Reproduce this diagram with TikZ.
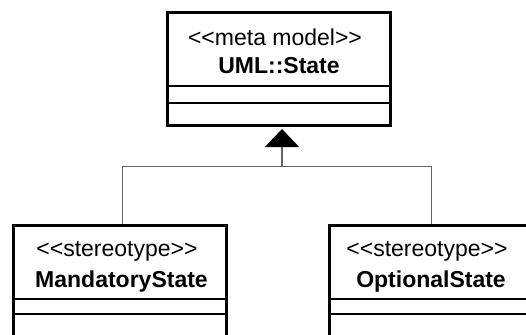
\documentclass[tikz,border=0pt]{standalone}
\usepackage{fontspec}
\setmainfont{Liberation Sans}[Ligatures=TeXOff]
\usetikzlibrary{arrows.meta}
\begin{document}
\begin{tikzpicture}[x=1pt,y=-1pt,
  classbox/.style={draw=black, line width=3pt, fill=white, inner sep=0pt, anchor=north west},
  compline/.style={draw=black, line width=2pt},
  stereo/.style={font=\fontsize{23}{26}\selectfont, anchor=base, inner sep=0pt},
  cname/.style={font=\fontsize{23}{26}\selectfont\bfseries, anchor=base, inner sep=0pt},
  conn/.style={draw={rgb,255:red,100;green,100;blue,100}, line width=1.5pt},
  gen/.style={conn, -{Triangle[length=18pt,width=34pt,fill=black,color=black]}}
]
\useasboundingbox (0,0) rectangle (526,334);
\clip (0,0) rectangle (526,334);

% meta model class
\node[classbox, minimum width=223.5pt, minimum height=112.5pt] (state) at (165.5,11) {};
\draw[compline] (state.west |- 0,86) -- (state.east |- 0,86);
\draw[compline] (state.west |- 0,102.5) -- (state.east |- 0,102.5);
\node[stereo] (stateS) at (275,46) {<\kern0pt<meta model>\kern0pt>};
\node[cname] (stateN) at (279,74) {UML::State};

% stereotype classes
\node[classbox, minimum width=213pt, minimum height=130pt] (mand) at (11.5,224.3) {};
\draw[compline] (mand.west |- 0,299) -- (mand.east |- 0,299);
\draw[compline] (mand.west |- 0,314) -- (mand.east |- 0,314);
\node[stereo] (mandS) at (117,256) {<\kern0pt<stereotype>\kern0pt>};
\node[cname] (mandN) at (121.5,287) {MandatoryState};

\node[classbox, minimum width=204pt, minimum height=130pt] (opt) at (328,224.3) {};
\draw[compline] (opt.west |- 0,299) -- (opt.east |- 0,299);
\draw[compline] (opt.west |- 0,314) -- (opt.east |- 0,314);
\node[stereo] (optS) at (427,256) {<\kern0pt<stereotype>\kern0pt>};
\node[cname] (optN) at (431,287) {OptionalState};

% generalisation connectors
\coordinate (j) at (282,166.5);
\draw[gen, shorten >=2.5pt] (j) -- (j |- state.south);
\draw[conn] ([xshift=3pt]mand.north) |- (j) -| (opt.north);
\end{tikzpicture}
\end{document}
